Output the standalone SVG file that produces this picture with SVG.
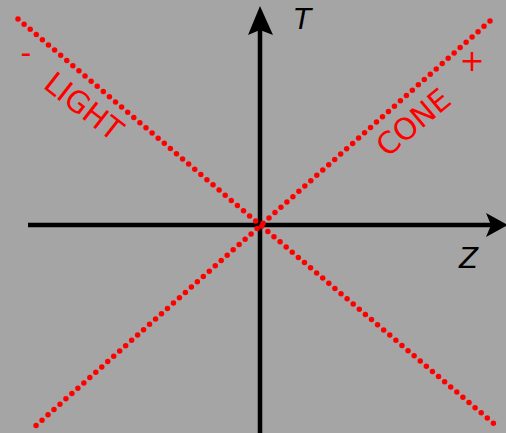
<svg xmlns="http://www.w3.org/2000/svg" width="506" height="433" viewBox="0 0 506 433">
<style>
.axis{stroke:#000;stroke-width:4.5;fill:none}
.head{fill:#000}
.cone{stroke:#f00;stroke-width:5.5;stroke-linecap:round;stroke-dasharray:0 8;fill:none}
.lbl{font-family:"DejaVu Sans",sans-serif;fill:#f00;font-size:30px}
.ax{font-family:"DejaVu Sans",sans-serif;font-style:italic;fill:#000;font-size:28px}
</style>
<rect x="0" y="0" width="506" height="433" fill="#a5a5a5"/>
<g id="connectors">
<line class="axis" x1="28" y1="225" x2="492" y2="225"/>
<path class="head" d="M508,225 L486,213 L491,225 L486,237 Z"/>
<line class="axis" x1="260" y1="433" x2="260" y2="30"/>
<path class="head" d="M260,6 L248,35 L260,30 L273,35 Z"/>
<line class="cone" x1="18" y1="19" x2="499" y2="428"/>
<line class="cone" x1="490" y1="21" x2="31" y2="430"/>
</g>
<g id="T"><text class="ax" x="294" y="29">T</text></g>
<g id="Z"><text class="ax" x="459" y="268">Z</text></g>
<g id="minus"><text class="lbl" x="26" y="63" text-anchor="middle">-</text></g>
<g id="plus"><text class="lbl" x="472" y="71" text-anchor="middle">+</text></g>
<g id="light"><text class="lbl" text-anchor="middle" transform="translate(84,106) rotate(38)" y="11">LIGHT</text></g>
<g id="cone"><text class="lbl" text-anchor="middle" transform="translate(413,122) rotate(-40)" y="11">CONE</text></g>
</svg>
